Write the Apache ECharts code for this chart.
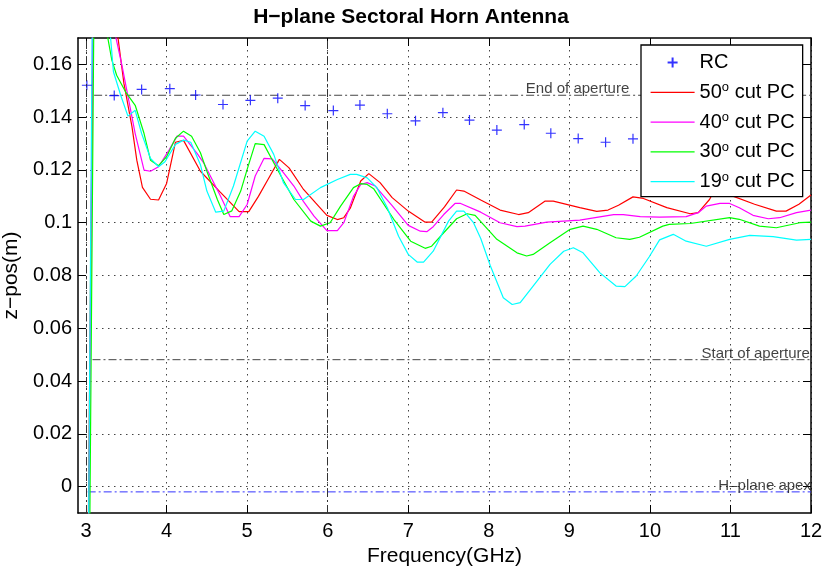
<!DOCTYPE html>
<html><head><meta charset="utf-8">
<script src="https://cdn.jsdelivr.net/npm/echarts@6/dist/echarts.min.js"></script>
<style>html,body{margin:0;padding:0;background:#fff}#c{width:822px;height:568px}</style>
</head><body><div id="c"></div>
<script>
// ---- data ----
const xTicks = [3,4,5,6,7,8,9,10,11,12];
const yTicks = [0,0.02,0.04,0.06,0.08,0.10,0.12,0.14,0.16];
const xRange = [2.9, 12];
const yRange = [-0.01, 0.17];

const rcFreq = [3.01,3.35,3.69,4.04,4.36,4.70,5.04,5.38,5.72,6.07,6.40,6.74,7.09,7.43,7.76,8.10,8.44,8.77,9.11,9.45,9.79];
const rcZ    = [0.1521,0.1482,0.1505,0.1508,0.1484,0.1448,0.1464,0.1472,0.1444,0.1425,0.1446,0.1413,0.1386,0.1417,0.1389,0.1351,0.1372,0.1339,0.1319,0.1305,0.1318];

const pc50 = [[3.02,-0.04],[3.09,0.19],[3.30,0.20],[3.39,0.1716],[3.47,0.1528],[3.57,0.1364],[3.63,0.1237],[3.70,0.1134],[3.80,0.1089],[3.90,0.1086],[4.00,0.1149],[4.11,0.1305],[4.21,0.1312],[4.42,0.1195],[4.66,0.1118],[4.90,0.1042],[5.02,0.1042],[5.14,0.1100],[5.26,0.1165],[5.40,0.1240],[5.52,0.1208],[5.70,0.1126],[5.85,0.1075],[5.99,0.1028],[6.12,0.1012],[6.20,0.1019],[6.28,0.1055],[6.41,0.1158],[6.51,0.1186],[6.65,0.1152],[6.80,0.1095],[7.00,0.1044],[7.21,0.1002],[7.29,0.1002],[7.45,0.1060],[7.60,0.1124],[7.69,0.1120],[7.90,0.1086],[8.14,0.1048],[8.37,0.1031],[8.49,0.1038],[8.70,0.1082],[8.80,0.1082],[9.13,0.1057],[9.34,0.1043],[9.48,0.1048],[9.61,0.1066],[9.79,0.1098],[9.92,0.1092],[10.21,0.1057],[10.50,0.1034],[10.60,0.1038],[10.74,0.1088],[10.83,0.1140],[10.92,0.1160],[11.03,0.1101],[11.30,0.1070],[11.57,0.1044],[11.69,0.1044],[11.85,0.1070],[12.00,0.1105]];

const pc40 = [[3.03,-0.04],[3.085,0.19],[3.30,0.20],[3.36,0.1717],[3.45,0.1590],[3.53,0.1464],[3.61,0.1338],[3.72,0.1199],[3.80,0.1195],[3.90,0.1212],[4.03,0.1275],[4.13,0.1328],[4.21,0.1328],[4.38,0.1262],[4.46,0.1227],[4.67,0.1100],[4.79,0.1023],[4.90,0.1023],[5.00,0.1069],[5.10,0.1177],[5.21,0.1244],[5.31,0.1242],[5.45,0.1190],[5.58,0.1139],[5.70,0.1080],[5.83,0.1025],[5.99,0.0970],[6.12,0.0970],[6.20,0.1000],[6.32,0.1100],[6.41,0.1145],[6.49,0.1152],[6.59,0.1139],[6.80,0.1065],[7.00,0.0990],[7.15,0.0968],[7.23,0.0966],[7.31,0.0985],[7.44,0.1031],[7.58,0.1073],[7.65,0.1073],[7.90,0.1040],[8.14,0.1000],[8.35,0.0985],[8.45,0.0987],[8.72,0.1002],[9.13,0.1010],[9.55,0.1031],[9.67,0.1031],[9.88,0.1023],[10.12,0.1021],[10.45,0.1023],[10.60,0.1038],[10.70,0.1063],[10.87,0.1073],[10.99,0.1073],[11.11,0.1057],[11.28,0.1028],[11.47,0.1015],[11.61,0.1019],[11.82,0.1038],[12.00,0.1048]];

const pc30 = [[3.04,-0.04],[3.10,0.19],[3.20,0.195],[3.26,0.1717],[3.32,0.1616],[3.38,0.1559],[3.49,0.1496],[3.61,0.1445],[3.72,0.1338],[3.80,0.1237],[3.90,0.1216],[4.00,0.1250],[4.11,0.1320],[4.21,0.1347],[4.31,0.1328],[4.42,0.1265],[4.50,0.1195],[4.63,0.1088],[4.71,0.1031],[4.81,0.1045],[4.92,0.1120],[5.00,0.1202],[5.10,0.1300],[5.21,0.1296],[5.33,0.1227],[5.58,0.1088],[5.79,0.1006],[5.91,0.0987],[6.03,0.1000],[6.16,0.1063],[6.32,0.1133],[6.41,0.1148],[6.49,0.1145],[6.57,0.1129],[6.82,0.1013],[7.03,0.0930],[7.21,0.0903],[7.29,0.0911],[7.44,0.0962],[7.60,0.1015],[7.73,0.1034],[7.83,0.1028],[8.10,0.0937],[8.35,0.0886],[8.47,0.0874],[8.55,0.0880],[8.76,0.0924],[9.01,0.0975],[9.17,0.0987],[9.34,0.0975],[9.58,0.0943],[9.75,0.0937],[9.87,0.0945],[10.16,0.0987],[10.24,0.0994],[10.50,0.0997],[10.99,0.1019],[11.11,0.1013],[11.36,0.0987],[11.57,0.0981],[11.86,0.1000],[12.00,0.1002]];

const pc19 = [[3.025,-0.04],[3.08,0.19],[3.22,0.20],[3.30,0.1717],[3.34,0.1572],[3.43,0.1483],[3.52,0.1404],[3.61,0.1426],[3.69,0.1338],[3.80,0.1244],[3.90,0.1212],[3.98,0.1231],[4.11,0.1297],[4.21,0.1313],[4.30,0.1305],[4.42,0.1220],[4.50,0.1120],[4.61,0.1040],[4.71,0.1044],[4.83,0.1139],[5.00,0.1309],[5.10,0.1347],[5.21,0.1328],[5.33,0.1259],[5.45,0.1152],[5.60,0.1088],[5.70,0.1088],[5.91,0.1133],[6.12,0.1164],[6.28,0.1183],[6.36,0.1183],[6.49,0.1170],[6.61,0.1133],[6.74,0.1057],[6.88,0.0949],[7.00,0.0880],[7.11,0.0851],[7.19,0.0851],[7.31,0.0892],[7.50,0.1006],[7.60,0.1044],[7.69,0.1044],[7.81,0.1000],[7.90,0.0940],[8.02,0.0836],[8.18,0.0716],[8.29,0.0690],[8.39,0.0697],[8.55,0.0760],[8.76,0.0842],[8.93,0.0892],[9.05,0.0905],[9.17,0.0886],[9.38,0.0810],[9.58,0.0760],[9.69,0.0758],[9.83,0.0798],[9.99,0.0870],[10.12,0.0935],[10.29,0.0956],[10.45,0.0930],[10.70,0.0911],[10.99,0.0937],[11.24,0.0952],[11.53,0.0947],[11.82,0.0934],[12.00,0.0937]];

const seriesNames  = ['RC','50° cut PC','40° cut PC','30° cut PC','19° cut PC'];
const seriesColors = ['#0000ff','#ff0000','#ff00ff','#00ff00','#00ffff'];

// reference levels
const refNames  = ['End of aperture','Start of aperture','H\u2013plane apex'];
const refZ      = [0.1483, 0.0481, -0.002];
const refStartF = [3.10, 3.08, 3.02];
const refEndF   = [12, 12, 12];
const refLabelF = [8.46, 10.64, 10.85];
const refColors = ['#444444','#444444','#3333ff'];
const cutoffF   = [3.0, 6.0];

// ---- chart ----
const FONT = 'Liberation Sans, Arial, Helvetica, sans-serif';
const chart = echarts.init(document.getElementById('c'), null, {renderer:'canvas'});
const dashDot = [8,3,2,3];
const fmt = v => String(parseFloat((+v).toFixed(2)));

const series = [];
series.push({
  name: seriesNames[0], type:'scatter', xAxisIndex:0, yAxisIndex:0,
  data: rcFreq.map((f,i)=>[f, rcZ[i]]),
  symbol: 'path://M0,5L10,5M5,0L5,10', symbolSize: 10,
  itemStyle: {color: seriesColors[0], borderColor: seriesColors[0], borderWidth: 1.2},
  z: 3
});
[pc50,pc40,pc30,pc19].forEach((d,i)=>{
  series.push({
    name: seriesNames[i+1], type:'line', data:d, symbol:'none', clip:true,
    lineStyle:{color:seriesColors[i+1], width:1.2}, itemStyle:{color:seriesColors[i+1]},
    z: 3
  });
});
refNames.forEach((n,i)=>{
  series.push({
    name: '_ref'+i, type:'line', symbol:'none', clip:true,
    data: [[refStartF[i], refZ[i]],[refEndF[i], refZ[i]]],
    lineStyle:{color:refColors[i], width:1, type:dashDot}, z:2
  });
});
series.push({
  name:'_cutoff', type:'line', data:[], symbol:'none',
  markLine:{ silent:true, symbol:'none', animation:false,
    label:{show:false},
    lineStyle:{color:'#333', width:1, type:dashDot},
    data: cutoffF.map(f=>({xAxis:f}))
  }
});
series.push({
  name:'_labels', type:'scatter', symbolSize:0,
  data: refNames.map((n,i)=>({name:n, value:[refLabelF[i], refZ[i]]})),
  label:{show:true, position:'right', distance:0, offset:[0,-6], formatter:p=>p.name,
    fontFamily:FONT, fontSize:15, color:'#111'},
  z:4
});

const legendData = seriesNames.map((n,i)=> i===0 ? {name:n} : {name:n, itemStyle:{opacity:0}});

const option = {
  animation:false,
  backgroundColor:'#fff',
  title:{text:'H\u2212plane Sectoral Horn Antenna', left:'center', top:2,
    textStyle:{fontFamily:FONT, fontSize:21, fontWeight:'bold', color:'#000'}},
  legend:{
    data: legendData, orient:'vertical', left:641, top:45,
    itemWidth:44, itemHeight:10, itemGap:8.8,
    padding:[7.5,8,5,9], borderColor:'#000', borderWidth:1.3, backgroundColor:'#fff',
    selectedMode:false,
    lineStyle:{width:1.2},
    formatter: name => {
      if (name.indexOf('°')<0) return '{n|'+name+'}';
      const p = name.split('°');
      return '{n|'+p[0]+'}{s|o}{n|'+p[1]+'}';
    },
    textStyle:{fontFamily:FONT, fontSize:20, color:'#000',
      rich:{ n:{fontFamily:FONT, fontSize:20, lineHeight:22, color:'#000'},
             s:{fontFamily:FONT, fontSize:13, lineHeight:13, verticalAlign:'top', color:'#000'} }}
  },
  grid:{left:78, right:11, top:38, bottom:55, containLabel:false, outerBoundsMode:'none'},
  xAxis:[{
    type:'value', position:'bottom', min:xRange[0], max:xRange[1],
    name:'Frequency(GHz)', nameLocation:'middle', nameGap:22,
    nameTextStyle:{fontFamily:FONT, fontSize:21, color:'#000'},
    axisLine:{show:true, onZero:false, lineStyle:{color:'#000', width:1.5}},
    axisTick:{show:true, inside:true, length:8, customValues:xTicks, lineStyle:{color:'#000', width:1}},
    axisLabel:{show:true, customValues:xTicks, margin:8, formatter:fmt, fontFamily:FONT, fontSize:20, color:'#000'},
    splitLine:{show:true, lineStyle:{color:'#444', width:1, type:[1.5,4.5]}}
  },{
    type:'value', position:'top', min:xRange[0], max:xRange[1],
    axisLine:{show:true, onZero:false, lineStyle:{color:'#000', width:1.5}},
    axisTick:{show:true, inside:true, length:8, customValues:xTicks, lineStyle:{color:'#000', width:1}},
    axisLabel:{show:false}, splitLine:{show:false}
  }],
  yAxis:[{
    type:'value', position:'left', min:yRange[0], max:yRange[1],
    name:'z\u2212pos(m)', nameLocation:'middle', nameGap:51,
    nameTextStyle:{fontFamily:FONT, fontSize:21, color:'#000'},
    axisLine:{show:true, onZero:false, lineStyle:{color:'#000', width:1.5}},
    axisTick:{show:true, inside:true, length:8, customValues:yTicks, lineStyle:{color:'#000', width:1}},
    axisLabel:{show:true, customValues:yTicks, margin:6, formatter:fmt, fontFamily:FONT, fontSize:20, color:'#000'},
    splitLine:{show:true, lineStyle:{color:'#444', width:1, type:[1.5,4.5]}}
  },{
    type:'value', position:'right', min:yRange[0], max:yRange[1],
    axisLine:{show:true, onZero:false, lineStyle:{color:'#000', width:1.5}},
    axisTick:{show:true, inside:true, length:8, customValues:yTicks, lineStyle:{color:'#000', width:1}},
    axisLabel:{show:false}, splitLine:{show:false}
  }],
  series: series
};
chart.setOption(option);
</script></body></html>
